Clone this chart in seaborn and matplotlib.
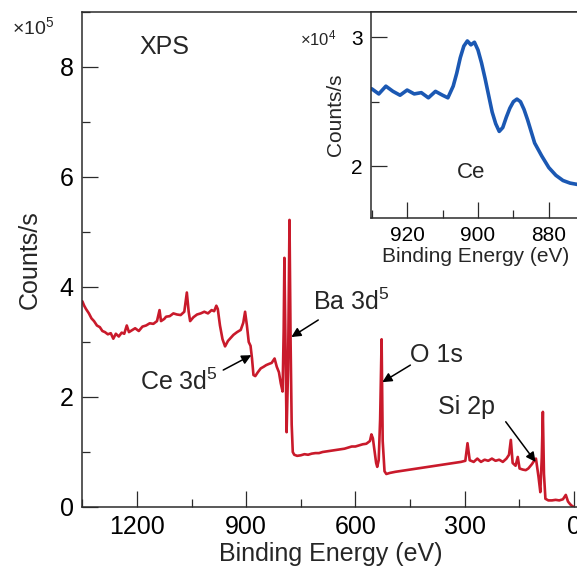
import matplotlib
matplotlib.use("Agg")
import matplotlib.pyplot as plt
import numpy as np
import seaborn as sns
from matplotlib.ticker import MultipleLocator

# survey spectrum, binding energy (eV) and counts/s (x1e5)
survey_ev = [
    1350, 1345, 1340, 1332, 1325, 1318, 1310, 1302, 1295, 1288, 1280, 1272, 1265, 1258,
    1250, 1242, 1235, 1228, 1222, 1212, 1205, 1195, 1185, 1175, 1165, 1155, 1145, 1138,
    1134, 1125, 1120, 1110, 1100, 1090, 1080, 1070, 1063, 1058, 1054, 1045, 1035, 1025,
    1015, 1005, 995, 988, 982, 978, 972, 965, 958, 950, 942, 935, 925, 915, 908, 903,
    898, 893, 888, 884, 880, 875, 868, 860, 852, 845, 838, 830, 822, 816, 810, 805, 800,
    797, 795, 792, 789, 785, 781, 778, 775, 772, 768, 760, 750, 740, 730, 720, 710, 700,
    690, 680, 670, 660, 650, 640, 630, 620, 610, 600, 590, 580, 570, 560, 556, 552, 548,
    543, 540, 536, 532, 528, 525, 520, 515, 505, 490, 470, 450, 430, 410, 390, 370, 350,
    330, 310, 298, 292, 286, 275, 265, 255, 245, 235, 225, 215, 205, 195, 185, 178, 173,
    168, 160, 154, 149, 140, 132, 125, 115, 108, 104, 97, 92, 88, 85, 82, 78, 70, 60, 50,
    40, 30, 22, 16, 10, 5, 0,
]
survey_counts = [
    3.74, 3.66, 3.60, 3.52, 3.43, 3.38, 3.30, 3.27, 3.20, 3.18, 3.14, 3.16, 3.06, 3.15,
    3.10, 3.17, 3.15, 3.30, 3.18, 3.22, 3.25, 3.20, 3.28, 3.30, 3.34, 3.33, 3.38, 3.58,
    3.38, 3.42, 3.46, 3.47, 3.52, 3.50, 3.49, 3.55, 3.90, 3.55, 3.38, 3.45, 3.50, 3.52,
    3.55, 3.52, 3.58, 3.56, 3.66, 3.60, 3.30, 3.05, 2.92, 3.02, 3.08, 3.13, 3.18, 3.22,
    3.35, 3.55, 3.30, 3.00, 2.93, 2.70, 2.40, 2.38, 2.45, 2.52, 2.55, 2.58, 2.60, 2.62,
    2.70, 2.55, 2.45, 2.25, 2.10, 3.20, 4.53, 3.00, 1.36, 2.50, 5.22, 3.00, 1.50, 1.00,
    0.95, 0.93, 0.94, 0.96, 0.95, 0.97, 0.98, 0.98, 1.00, 1.01, 1.02, 1.03, 1.04, 1.05,
    1.06, 1.08, 1.10, 1.10, 1.12, 1.14, 1.15, 1.20, 1.32, 1.25, 1.05, 0.80, 0.73, 0.85,
    1.60, 3.05, 1.20, 0.65, 0.60, 0.62, 0.64, 0.66, 0.68, 0.70, 0.72, 0.74, 0.76, 0.78,
    0.80, 0.82, 0.84, 1.16, 0.85, 0.82, 0.88, 0.82, 0.86, 0.84, 0.88, 0.84, 0.86, 0.82,
    0.88, 0.95, 1.22, 0.80, 0.75, 0.91, 0.70, 0.68, 0.67, 0.70, 0.78, 0.85, 0.88, 0.55,
    0.27, 0.90, 1.73, 0.60, 0.15, 0.12, 0.12, 0.13, 0.12, 0.14, 0.22, 0.10, 0.05, 0.02,
    0.00,
]

# Ce 3d detail, binding energy (eV) and counts/s (x1e4)
ce_ev = [
    930, 928, 926, 924, 922, 920, 918, 916, 914, 912, 910, 908.5, 907, 906, 905, 904,
    903, 902, 901, 900, 899, 898, 897, 896, 895, 894, 893, 892, 891, 890, 889, 888, 887,
    886, 885, 884, 882, 880, 878, 876, 874, 872, 871,
]
ce_counts = [
    2.60, 2.56, 2.62, 2.58, 2.55, 2.59, 2.56, 2.57, 2.53, 2.58, 2.55, 2.53, 2.62, 2.72,
    2.84, 2.93, 2.97, 2.94, 2.96, 2.90, 2.80, 2.68, 2.55, 2.42, 2.33, 2.27, 2.30, 2.38,
    2.45, 2.50, 2.52, 2.50, 2.44, 2.36, 2.27, 2.18, 2.08, 1.99, 1.93, 1.89, 1.87, 1.86,
    1.87,
]

survey_ticks = [1200, 900, 600, 300, 0]

RED = "#c91a2b"
BLUE = "#1b58b3"
INK = "#2b2b2b"

sns.set_style("ticks")
plt.rcParams["font.family"] = ["Liberation Sans", "DejaVu Sans"]
plt.rcParams["mathtext.default"] = "regular"

W, H = 577, 567
fig = plt.figure(figsize=(W / 100, H / 100), dpi=100)


def px_box(left, top, right, bottom):
    return [left / W, 1 - bottom / H, (right - left) / W, (bottom - top) / H]


def style_axes(ax, size, major, minor):
    for side in ["left", "bottom", "top", "right"]:
        ax.spines[side].set_color(INK)
        ax.spines[side].set_linewidth(1.1)
    ax.tick_params(which="both", direction="in", color=INK, width=0.9,
                   labelsize=size, labelcolor="black", top=False, right=False)
    ax.tick_params(which="major", length=major, pad=6)
    ax.tick_params(which="minor", length=minor)


# main survey panel
ax = fig.add_axes(px_box(82, 12, 580, 507))
sns.lineplot(x=survey_ev, y=survey_counts, ax=ax, color=RED, lw=1.9,
             sort=False, estimator=None)
ax.set_xlim(1351, -17)
ax.set_ylim(0, 9)
ax.set_xticks(survey_ticks)
ax.xaxis.set_minor_locator(MultipleLocator(150))
ax.set_yticks([0, 2, 4, 6, 8])
ax.yaxis.set_minor_locator(MultipleLocator(1))
style_axes(ax, 18, 11.5, 6)
ax.set_xlabel("Binding Energy (eV)", fontsize=18, labelpad=2)
ax.set_ylabel("Counts/s", fontsize=18, labelpad=13)
fig.text(12 / W, 1 - 27 / H, "×10$^5$", fontsize=14, ha="left", va="center")

ax.text(1192, 8.36, "XPS", fontsize=18, ha="left", va="center")
arrow = dict(arrowstyle="-|>", color="black", lw=1.1, mutation_scale=14,
             shrinkA=0, shrinkB=0)
labels = [
    ("Ba 3d$^5$", (716, 3.73), (702, 3.40), (776, 3.09)),
    ("Ce 3d$^5$", (1192, 2.27), (963, 2.49), (886, 2.76)),
    ("O 1s", (449, 2.76), (449, 2.58), (526, 2.27)),
    ("Si 2p", (372, 1.82), (187, 1.55), (105, 0.82)),
]
for text, pos, tail, head in labels:
    ax.text(pos[0], pos[1], text, fontsize=18, ha="left", va="center")
    ax.annotate("", xy=head, xytext=tail, arrowprops=arrow)

# inset Ce 3d panel
ins = fig.add_axes(px_box(371, 12, 580, 218))
ins.set_facecolor("white")
sns.lineplot(x=ce_ev, y=ce_counts, ax=ins, color=BLUE, lw=2.6,
             sort=False, estimator=None)
ins.set_xlim(930.2, 871.2)
ins.set_ylim(1.6, 3.194)
ins.set_xticks([920, 900, 880])
ins.xaxis.set_minor_locator(MultipleLocator(10))
ins.set_yticks([2, 3])
ins.yaxis.set_minor_locator(MultipleLocator(0.5))
style_axes(ins, 15, 11.5, 6)
ins.set_xlabel("Binding Energy (eV)", fontsize=15, labelpad=1)
ins.set_ylabel("Counts/s", fontsize=15, labelpad=4)
ins.text(902, 1.95, "Ce", fontsize=16, ha="center", va="center")
fig.text(300 / W, 1 - 38 / H, "×10$^4$", fontsize=12, ha="left", va="center")

fig.savefig("out.png", dpi=100)
